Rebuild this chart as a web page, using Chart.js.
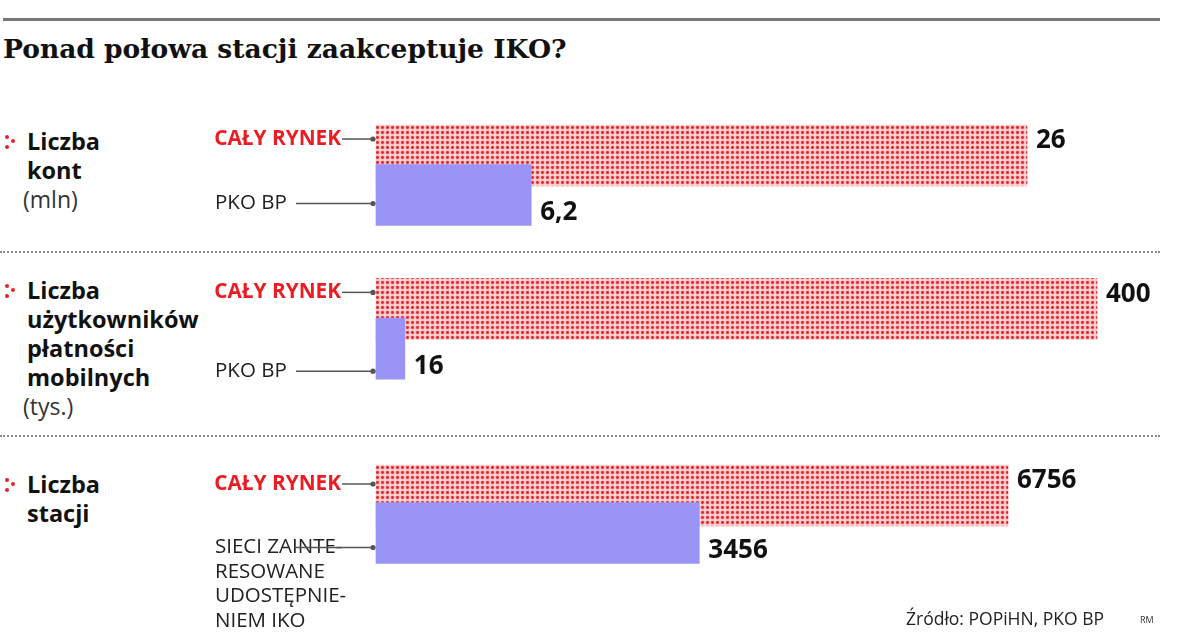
<!DOCTYPE html>
<html><head><meta charset="utf-8">
<script src="https://cdn.jsdelivr.net/npm/chart.js@4.4.1/dist/chart.umd.min.js"></script>
<style>
html,body{margin:0;padding:0;background:#fff;}
body{width:1200px;height:636px;position:relative;overflow:hidden;font-family:"Open Sans",sans-serif;color:#111;}
canvas.c{position:absolute;left:0;top:0;}
.topline{position:absolute;left:3px;top:18px;width:1157px;height:3px;background:#777;}
.sep{position:absolute;left:0;width:1160px;height:0;border-top:2px dotted #8a8a8a;}
.title{position:absolute;left:3px;top:33px;font-family:"DejaVu Serif",serif;font-weight:bold;font-size:26.5px;white-space:nowrap;color:#111;}
.gt{position:absolute;left:27px;font-size:23.5px;line-height:29px;white-space:nowrap;}
.gt b{font-weight:700;}
.gt span{font-weight:400;font-size:23px;margin-left:-4px;color:#333;}
.dot{position:absolute;width:4px;height:4px;border-radius:50%;background:#e8202a;}
.src{position:absolute;left:906px;top:606px;font-size:17.5px;white-space:nowrap;color:#222;}
.rm{position:absolute;left:1140px;top:613px;font-size:9px;color:#333;}
</style></head>
<body>
<div class="topline"></div>
<div class="title">Ponad połowa stacji zaakceptuje IKO?</div>
<div class="sep" style="top:251px"></div>
<div class="sep" style="top:435px"></div>
<div id="titles"></div>
<canvas class="c" id="c0" width="1200" height="636"></canvas>
<canvas class="c" id="c1" width="1200" height="636"></canvas>
<canvas class="c" id="c2" width="1200" height="636"></canvas>
<div class="src">Źródło: POPiHN, PKO BP</div>
<div class="rm">RM</div>
<script>
// ---- data ----
const groupTitles = [["Liczba","kont"],["Liczba","użytkowników","płatności","mobilnych"],["Liczba","stacji"]];
const groupUnits = ["(mln)","(tys.)",""];
const seriesLabels = [
  ["CAŁY RYNEK","PKO BP"],
  ["CAŁY RYNEK","PKO BP"],
  ["CAŁY RYNEK",["SIECI ZAINTE-","RESOWANE","UDOSTĘPNIE-","NIEM IKO"]]
];
const marketValues = [26, 400, 6756];
const pkoValues = [6.2, 16, 3456];
const valueLabels = [["26","6,2"],["400","16"],["6756","3456"]];

// ---- layout (positions only) ----
const LAYOUT = [
  {top:135.75, bottom:214.75, right:1027, redOff:14, blueOff:-22, titleTop:127},
  {top:289,    bottom:368.5,  right:1097, redOff:14, blueOff:-8,  titleTop:276},
  {top:476.75, bottom:551.75, right:1008, redOff:19, blueOff:-16, titleTop:470}
];
const RED = "#ec1c24";
const BLUE = "#9b94f7";

// red dotted pattern
const tile = document.createElement("canvas");
tile.width = 5; tile.height = 5;
const tctx = tile.getContext("2d");
tctx.fillStyle = "#fde6e6"; tctx.fillRect(0,0,5,5);
tctx.fillStyle = "#f3a4a6"; tctx.fillRect(0.5,0.5,4,4);
tctx.fillStyle = "#e2262e"; tctx.beginPath(); tctx.arc(2.5,2.5,1.45,0,Math.PI*2); tctx.fill();
const pattern = document.createElement("canvas").getContext("2d").createPattern(tile,"repeat");

// left group titles
const tWrap = document.getElementById("titles");
groupTitles.forEach((lines,g)=>{
  const d = document.createElement("div");
  d.className = "gt";
  d.style.top = LAYOUT[g].titleTop + "px";
  d.innerHTML = lines.map(l=>"<b>"+l+"</b>").join("<br>") + (groupUnits[g] ? "<br><span>"+groupUnits[g]+"</span>" : "");
  tWrap.appendChild(d);
  const cy = LAYOUT[g].titleTop + 14.5;
  [[5,cy-7],[11,cy-2.5],[5,cy+3]].forEach(([x,y])=>{
    const p = document.createElement("div"); p.className="dot";
    p.style.left = x+"px"; p.style.top = y+"px"; tWrap.appendChild(p);
  });
});

const annot = {
  id: "annot",
  afterDatasetsDraw(chart, args, opts){
    const g = opts.group;
    const ctx = chart.ctx;
    const meta = chart.getDatasetMeta(0);
    meta.data.forEach((bar,i)=>{
      const p = bar.getProps(["x","y","base","height"], true);
      const top = p.y - p.height/2, bottom = p.y + p.height/2;
      ctx.save();
      ctx.textBaseline = "middle";
      // value label
      ctx.font = 'bold 26px "Open Sans"';
      ctx.fillStyle = "#111";
      ctx.textAlign = "left";
      ctx.fillText(valueLabels[g][i], p.x + 9, i===0 ? top + 16 : bottom - 13);
      // series label
      const lab = chart.data.labels[i];
      const lines = Array.isArray(lab) ? lab : [lab];
      const ly = i===0 ? top + LAYOUT[g].redOff : bottom + LAYOUT[g].blueOff;
      if (i===0){
        ctx.font = 'bold 20.8px "Open Sans"'; ctx.fillStyle = RED; ctx.textAlign = "right";
        ctx.fillText(lines[0], 341, ly);
      } else {
        ctx.font = '20.5px "Open Sans"'; ctx.fillStyle = "#222"; ctx.textAlign = "left";
        lines.forEach((t,k)=>ctx.fillText(t, 215, ly + k*24.5));
      }
      // connector
      const x0 = i===0 ? 342 : 296, x1 = p.base - 3;
      ctx.strokeStyle = "#555"; ctx.lineWidth = 1.5;
      ctx.beginPath(); ctx.moveTo(x0, ly); ctx.lineTo(x1, ly); ctx.stroke();
      ctx.fillStyle = "#555"; ctx.beginPath(); ctx.arc(x1, ly, 2.6, 0, Math.PI*2); ctx.fill();
      ctx.restore();
    });
  }
};

marketValues.forEach((mv,g)=>{
  const L = LAYOUT[g];
  new Chart(document.getElementById("c"+g), {
    type: "bar",
    data: {
      labels: seriesLabels[g],
      datasets: [{
        data: [marketValues[g], pkoValues[g]],
        backgroundColor: [pattern, BLUE],
        borderWidth: 0,
        barThickness: 61,
        clip: false
      }]
    },
    options: {
      indexAxis: "y",
      responsive: false,
      animation: false,
      events: [],
      layout: {padding: {left: 376, right: 1200 - L.right, top: L.top, bottom: 636 - L.bottom}},
      plugins: {legend: {display:false}, tooltip: {enabled:false}, annot: {group: g}},
      scales: {
        x: {display:false, min:0, max:marketValues[g]},
        y: {display:false, offset:true}
      }
    },
    plugins: [annot]
  });
});
</script>
</body></html>
